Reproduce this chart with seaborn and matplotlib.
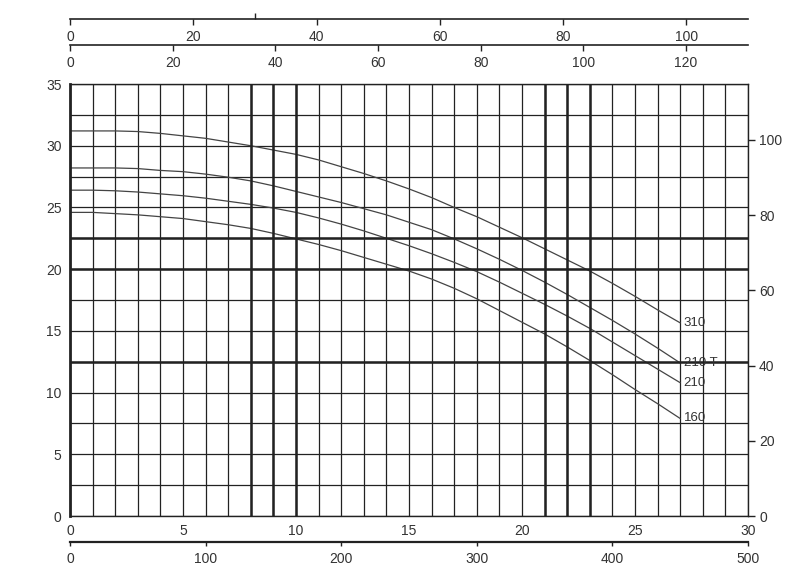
import numpy as np
import pandas as pd
import seaborn as sns
import matplotlib.pyplot as plt
from matplotlib.ticker import MultipleLocator, FixedLocator

# flow in m3/h
flow = list(range(0, 28))

# head in m
head_310 = [31.2, 31.2, 31.2, 31.15, 31.0, 30.8, 30.6, 30.3, 30.0, 29.65,
            29.3, 28.85, 28.3, 27.75, 27.15, 26.5, 25.8, 25.0, 24.25, 23.4,
            22.55, 21.65, 20.75, 19.85, 18.85, 17.8, 16.7, 15.65]
head_210t = [28.2, 28.2, 28.2, 28.15, 28.0, 27.9, 27.7, 27.45, 27.15, 26.75,
             26.3, 25.85, 25.4, 24.9, 24.4, 23.8, 23.2, 22.45, 21.65, 20.8,
             19.9, 18.95, 17.95, 16.9, 15.85, 14.75, 13.6, 12.4]
head_210 = [26.4, 26.4, 26.35, 26.25, 26.1, 25.95, 25.75, 25.5, 25.25, 24.95,
            24.6, 24.15, 23.65, 23.1, 22.5, 21.9, 21.25, 20.55, 19.8, 18.95,
            18.05, 17.15, 16.2, 15.2, 14.1, 13.0, 11.9, 10.8]
head_160 = [24.6, 24.6, 24.5, 24.4, 24.25, 24.1, 23.85, 23.6, 23.3, 22.9,
            22.45, 22.0, 21.5, 20.95, 20.4, 19.85, 19.2, 18.45, 17.6, 16.65,
            15.7, 14.75, 13.7, 12.6, 11.45, 10.25, 9.1, 7.9]

curves = {'310': head_310, '210 T': head_210t, '210': head_210, '160': head_160}

# unit conversions for the extra scales
LMIN = 1000 / 60      # l/min per m3/h
USGPM = 4.40287       # US gpm per m3/h
IMPGPM = 3.66615      # imp gpm per m3/h
FT = 3.28084          # ft per m

df = pd.concat([pd.DataFrame({'q': flow, 'h': h, 'pump': name})
                for name, h in curves.items()])

sns.set_style('white')
plt.rcParams['font.family'] = ['Liberation Sans', 'DejaVu Sans']
plt.rcParams['font.size'] = 10
ink = '#222222'
txt = '#333333'

fig = plt.figure(figsize=(8, 5.72), dpi=100)
ax = fig.add_axes([0.0875, 0.0979, 0.8475, 0.7552])

sns.lineplot(data=df, x='q', y='h', units='pump', estimator=None,
             color='#444444', lw=0.9, ax=ax, legend=False)

for name, h in curves.items():
    ax.text(27.15, h[-1], name, va='center', ha='left', fontsize=9.5, color=txt)

ax.set_xlim(0, 30)
ax.set_ylim(0, 35)
ax.xaxis.set_major_locator(MultipleLocator(5))
ax.xaxis.set_minor_locator(MultipleLocator(1))
ax.yaxis.set_major_locator(MultipleLocator(5))
ax.yaxis.set_minor_locator(MultipleLocator(2.5))
ax.grid(True, which='both', color=ink, lw=0.9)
for v in [8, 9, 10, 21, 22, 23]:
    ax.axvline(v, color=ink, lw=1.8)
for v in [22.5, 20, 12.5]:
    ax.axhline(v, color=ink, lw=1.8)
ax.set_xlabel('')
ax.set_ylabel('')
ax.tick_params(which='both', direction='out', length=3, width=1, color=ink,
               labelcolor=txt, pad=3)
ax.tick_params(axis='y', which='both', length=4, pad=2)
for s in ax.spines.values():
    s.set_color(ink)
    s.set_linewidth(1)
ax.spines['left'].set_linewidth(2)

# right scale in feet
ry = ax.secondary_yaxis('right', functions=(lambda m: m * FT, lambda f: f / FT))
ry.yaxis.set_major_locator(FixedLocator([0, 20, 40, 60, 80, 100]))
ry.tick_params(direction='out', length=5, width=1, color=ink, labelcolor=txt, pad=3)
ry.spines['right'].set_visible(False)

# bottom scale in l/min
bx = ax.secondary_xaxis(-0.0602, functions=(lambda q: q * LMIN, lambda l: l / LMIN))
bx.xaxis.set_major_locator(FixedLocator([0, 100, 200, 300, 400, 500]))
bx.tick_params(direction='out', length=3, width=1, color=ink, labelcolor=txt, pad=4)
bx.spines['bottom'].set_linewidth(1.6)
bx.spines['bottom'].set_color(ink)

# top scales: US gpm and imperial gpm
tx1 = ax.secondary_xaxis(1.0903, functions=(lambda q: q * USGPM, lambda g: g / USGPM))
tx1.set_alignment('bottom')
tx1.xaxis.set_major_locator(FixedLocator([0, 20, 40, 60, 80, 100, 120]))
tx2 = ax.secondary_xaxis(1.1505, functions=(lambda q: q * IMPGPM, lambda g: g / IMPGPM))
tx2.set_alignment('bottom')
tx2.xaxis.set_major_locator(FixedLocator([0, 20, 40, 60, 80, 100]))
tx2.xaxis.set_minor_locator(FixedLocator([30]))
tx2.tick_params(which='minor', direction='in', length=4, width=1, color=ink)
for t in (tx1, tx2):
    t.tick_params(which='major', direction='out', length=4, width=1, color=ink,
                  labelcolor=txt, pad=4)
    t.spines['bottom'].set_linewidth(1.2)
    t.spines['bottom'].set_color(ink)

fig.savefig('out.png', dpi=100, facecolor='white')
